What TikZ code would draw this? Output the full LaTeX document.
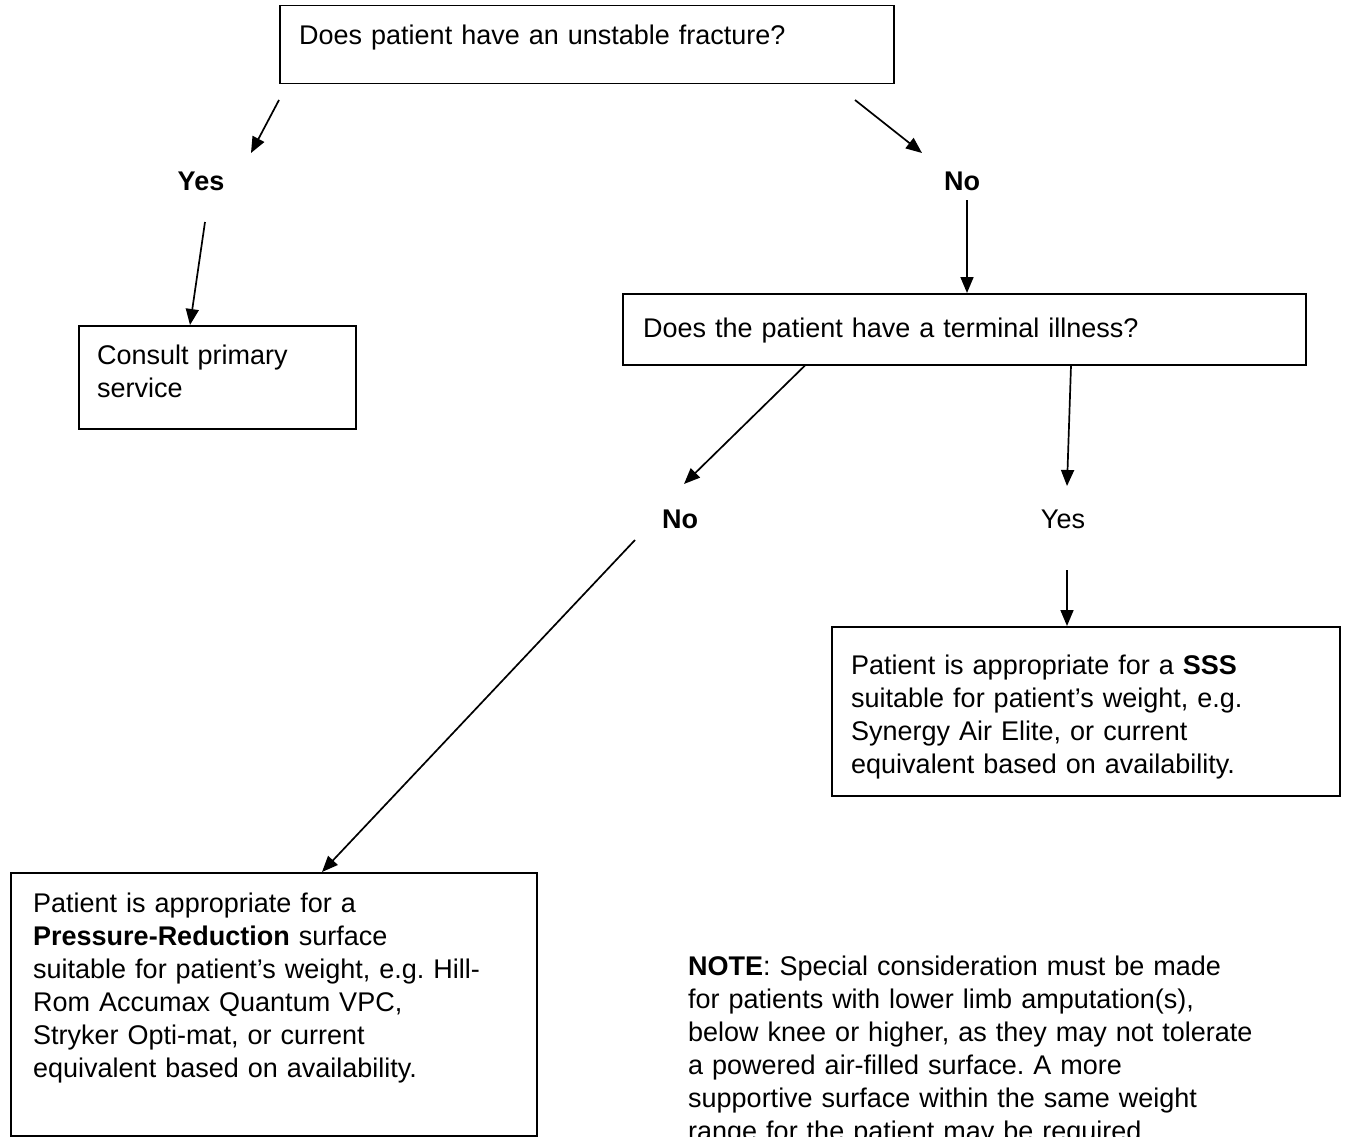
\documentclass[tikz,border=0pt]{standalone}
\usepackage{fontspec}
\setmainfont{Liberation Sans}
\usetikzlibrary{arrows.meta,calc}
\frenchspacing
\begin{document}
\begin{tikzpicture}[x=1pt,y=-1pt,
  boxnode/.style={draw, line width=1.5pt, inner sep=0pt, anchor=north west},
  txt/.style={font=\fontsize{27}{33}\selectfont, align=left, inner sep=0pt, anchor=base west},
  lbl/.style={font=\fontsize{27}{33}\selectfont, inner sep=0pt},
  arr/.style={line width=1.7pt, -{Triangle[length=16pt,width=13pt]}}]
\useasboundingbox (0,0) rectangle (1347,1137);
\clip (0,0) rectangle (1347,1137);
% boxes
\node[boxnode, minimum width=614pt, minimum height=78pt] (q1) at (279,5) {};
\node[boxnode, minimum width=277pt, minimum height=103pt] (cps) at (78,325) {};
\node[boxnode, minimum width=683pt, minimum height=71pt] (q2) at (622,293) {};
\node[boxnode, minimum width=508pt, minimum height=169pt] (sss) at (831,626) {};
\node[boxnode, minimum width=526pt, minimum height=263pt] (prs) at (10,872) {};
% texts
\node[txt, text width=600pt] (q1t) at (299,45) {Does patient have an unstable fracture?};
\node[txt, text width=260pt] (cpst) at (97,364) {Consult primary\\service};
\node[txt, text width=660pt] (q2t) at (643,337) {Does the patient have a terminal illness?};
\node[txt, text width=490pt] (ssst) at (851,674) {Patient is appropriate for a \textbf{SSS}\\suitable for patient’s weight, e.g.\\Synergy Air Elite, or current\\equivalent based on availability.};
\node[txt, text width=510pt] (prst) at (33,912) {Patient is appropriate for a\\\textbf{Pressure-Reduction} surface\\suitable for patient’s weight, e.g. Hill-\\Rom Accumax Quantum VPC,\\Stryker Opti-mat, or current\\equivalent based on availability.};
\node[txt, text width=650pt] (note) at (688,975) {\textbf{NOTE}: Special consideration must be made\\for patients with lower limb amputation(s),\\below knee or higher, as they may not tolerate\\a powered air-filled surface. A more\\supportive surface within the same weight\\range for the patient may be required.};
% labels
\node[lbl] (yes1) at (201,181) {\textbf{Yes}};
\node[lbl] (no1) at (962,181) {\textbf{No}};
\node[lbl] (no2) at (680,519) {\textbf{No}};
\node[lbl] (yes2) at (1063,519) {Yes};
% free ends
\coordinate (a1s) at (279,100);
\coordinate (a1e) at (251,153);
\coordinate (a2s) at (855,100);
\coordinate (a2e) at (922,153);
\coordinate (a3s) at (205,222);
\coordinate (a4s) at (967,200);
\coordinate (a5e) at (684,484);
\coordinate (a6e) at (1067,486);
\coordinate (a7s) at (635,540);
\coordinate (a8s) at (1067,570);
% connectors
\draw[arr] (a1s) -- (a1e);
\draw[arr] (a2s) -- (a2e);
\draw[arr] (a3s) -- (cps.north west -| 190,0);
\draw[arr] (a4s) -- (q2.north west -| 967,0);
\draw[arr] (q2.south west -| 805,0) -- (a5e);
\draw[arr] (q2.south west -| 1071,0) -- (a6e);
\draw[arr] (a7s) -- (prs.north west -| 322,0);
\draw[arr] (a8s) -- (sss.north west -| 1067,0);
\end{tikzpicture}
\end{document}
